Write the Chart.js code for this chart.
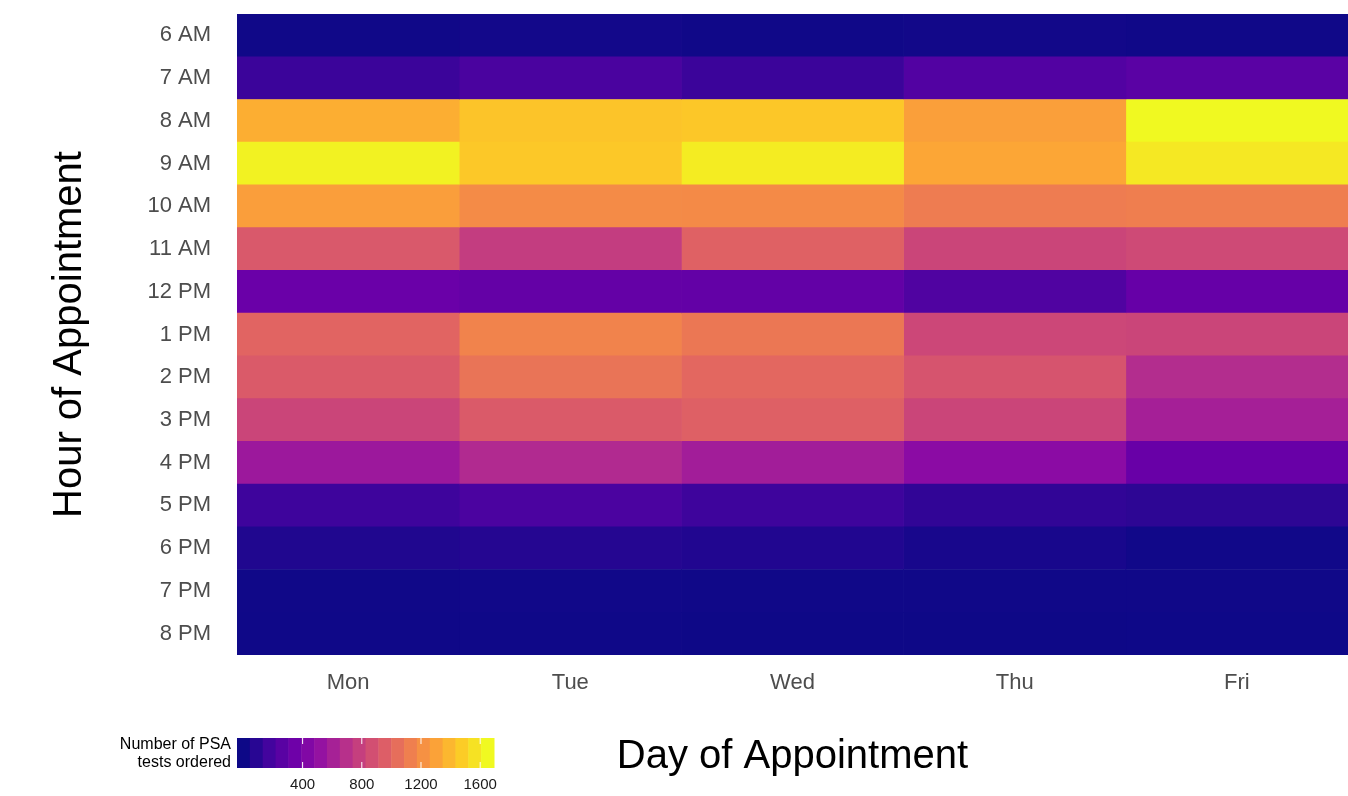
<!DOCTYPE html>
<html>
<head>
<meta charset="utf-8">
<script src="https://cdn.jsdelivr.net/npm/chart.js@4.4.1/dist/chart.umd.min.js"></script>
<style>
  html, body { margin: 0; padding: 0; background: #fff; }
  #wrap { width: 1348px; height: 796px; }
</style>
</head>
<body>
<div id="wrap"><canvas id="heat" width="1348" height="796"></canvas></div>
<script>
const days = ['Mon', 'Tue', 'Wed', 'Thu', 'Fri'];
const hours = ['6 AM', '7 AM', '8 AM', '9 AM', '10 AM', '11 AM', '12 PM',
               '1 PM', '2 PM', '3 PM', '4 PM', '5 PM', '6 PM', '7 PM', '8 PM'];

// number of PSA tests ordered, by hour (6 AM .. 8 PM)
const mon = [8, 145, 1355, 1625, 1280, 925, 330, 990, 935, 815, 560, 155, 60, 10, 5];
const tue = [20, 200, 1445, 1460, 1190, 770, 305, 1150, 1070, 935, 660, 205, 75, 12, 5];
const wed = [10, 145, 1455, 1600, 1185, 975, 300, 1090, 1005, 970, 585, 155, 65, 8, 3];
const thu = [15, 235, 1285, 1320, 1115, 815, 225, 825, 900, 815, 475, 115, 35, 8, 3];
const fri = [10, 265, 1650, 1585, 1125, 840, 315, 815, 675, 600, 320, 100, 12, 10, 4];

const legendTicks = [400, 800, 1200, 1600];
const colorMin = 0;
const colorMax = 1650;

const plasmaStops = ['#0d0887', '#41049d', '#6a00a8', '#8f0da4', '#b12a90', '#cc4778',
                     '#e16462', '#f2844b', '#fca636', '#fcce25', '#f0f921'];

function hexRgb(h) {
    return [parseInt(h.substr(1, 2), 16), parseInt(h.substr(3, 2), 16), parseInt(h.substr(5, 2), 16)];
}

function plasma(v) {
    let t = (v - colorMin) / (colorMax - colorMin);
    t = Math.max(0, Math.min(1, t));
    const pos = t * (plasmaStops.length - 1);
    const i = Math.min(Math.floor(pos), plasmaStops.length - 2);
    const f = pos - i;
    const a = hexRgb(plasmaStops[i]), b = hexRgb(plasmaStops[i + 1]);
    const c = a.map((x, k) => Math.round(x + (b[k] - x) * f));
    return 'rgb(' + c.join(',') + ')';
}

const dayValues = [mon, tue, wed, thu, fri];

// colour bar legend under the y axis
const colorBar = {
    id: 'colorBar',
    afterDraw(chart) {
        const ctx = chart.ctx;
        const left = 237, right = 494, top = 738, bottom = 768;
        const nbin = 20;
        const w = (right - left) / nbin;
        ctx.save();
        for (let i = 0; i < nbin; i++) {
            const v = colorMin + (colorMax - colorMin) * i / (nbin - 1);
            ctx.fillStyle = plasma(v);
            ctx.fillRect(left + i * w, top, w + 0.5, bottom - top);
        }
        ctx.strokeStyle = '#ffffff';
        ctx.lineWidth = 1;
        ctx.fillStyle = '#1a1a1a';
        ctx.font = '15px "Liberation Sans", Arial, sans-serif';
        ctx.textAlign = 'center';
        ctx.textBaseline = 'middle';
        legendTicks.forEach(function(tv) {
            const x = left + (0.5 + (tv - colorMin) / (colorMax - colorMin) * (nbin - 1)) / nbin * (right - left);
            ctx.beginPath();
            ctx.moveTo(x, top); ctx.lineTo(x, top + 6);
            ctx.moveTo(x, bottom - 6); ctx.lineTo(x, bottom);
            ctx.stroke();
            ctx.fillText(String(tv), x, 785);
        });
        ctx.font = '16px "Liberation Sans", Arial, sans-serif';
        ctx.textAlign = 'right';
        ctx.fillStyle = '#000';
        ctx.fillText('Number of PSA', 231, 745);
        ctx.fillText('tests ordered', 231, 763);
        ctx.restore();
    }
};

new Chart(document.getElementById('heat'), {
    type: 'bar',
    data: {
        labels: hours,
        datasets: dayValues.map(function(vals, j) {
            return {
                label: days[j],
                data: vals.map(function() { return [j - 0.5, j + 0.5]; }),
                backgroundColor: vals.map(plasma),
                borderWidth: 0,
                categoryPercentage: 1,
                barPercentage: 1,
                grouped: false
            };
        })
    },
    options: {
        indexAxis: 'y',
        responsive: false,
        animation: false,
        layout: {
            padding: { top: 14, right: 0, left: 0, bottom: 0 }
        },
        plugins: {
            legend: { display: false },
            tooltip: {
                callbacks: {
                    label: function(context) {
                        return days[context.datasetIndex] + ': ' + dayValues[context.datasetIndex][context.dataIndex];
                    }
                }
            }
        },
        scales: {
            x: {
                type: 'linear',
                min: -0.5,
                max: 4.5,
                grid: { display: false, drawTicks: false },
                border: { display: false },
                afterBuildTicks: function(axis) {
                    axis.ticks = days.map(function(d, i) { return { value: i }; });
                },
                afterFit: function(axis) {
                    axis.height = 141;
                    axis.paddingLeft = 0;
                    axis.paddingRight = 0;
                },
                ticks: {
                    padding: 15,
                    color: '#4d4d4d',
                    font: { size: 22, family: '"Liberation Sans", Arial, sans-serif' },
                    callback: function(value) { return days[value]; }
                },
                title: {
                    display: true,
                    text: 'Day of Appointment',
                    color: '#000',
                    font: { size: 40, family: '"Liberation Sans", Arial, sans-serif' },
                    padding: { bottom: 15 }
                }
            },
            y: {
                type: 'category',
                grid: { display: false, drawTicks: false },
                border: { display: false },
                afterFit: function(axis) {
                    axis.width = 237;
                    axis.paddingTop = 0;
                    axis.paddingBottom = 0;
                },
                ticks: {
                    padding: 26,
                    color: '#4d4d4d',
                    font: { size: 22, family: '"Liberation Sans", Arial, sans-serif' }
                },
                title: {
                    display: true,
                    text: 'Hour of Appointment',
                    color: '#000',
                    font: { size: 40, family: '"Liberation Sans", Arial, sans-serif' },
                    padding: { top: 46 }
                }
            }
        }
    },
    plugins: [colorBar]
});
</script>
</body>
</html>
